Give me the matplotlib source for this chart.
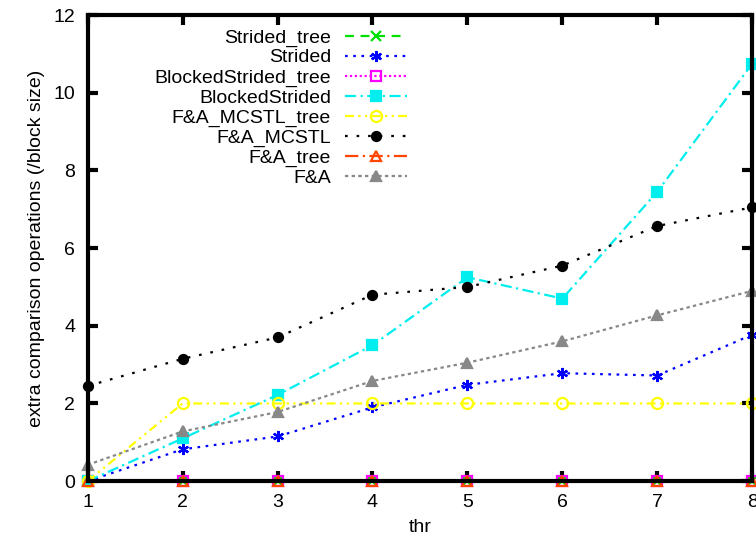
import matplotlib
matplotlib.use("Agg")
import matplotlib.pyplot as plt

thr = [1, 2, 3, 4, 5, 6, 7, 8]
strided_tree = [0, 0, 0, 0, 0, 0, 0, 0]
strided = [0, 0.82, 1.15, 1.9, 2.48, 2.78, 2.72, 3.77]
blocked_strided_tree = [0, 0, 0, 0, 0, 0, 0, 0]
blocked_strided = [0, 1.1, 2.22, 3.5, 5.25, 4.7, 7.45, 10.75]
fa_mcstl_tree = [0, 2, 2, 2, 2, 2, 2, 2]
fa_mcstl = [2.45, 3.15, 3.7, 4.8, 5.0, 5.55, 6.57, 7.05]
fa_tree = [0, 0, 0, 0, 0, 0, 0, 0]
fa = [0.42, 1.28, 1.78, 2.58, 3.05, 3.6, 4.27, 4.9]

xticks = [1, 2, 3, 4, 5, 6, 7, 8]
yticks = [0, 2, 4, 6, 8, 10, 12]

plt.rcParams['font.family'] = ['Liberation Sans', 'DejaVu Sans']

fig = plt.figure(figsize=(7.56, 5.4), dpi=100)
ax = fig.add_axes([0.116, 0.109, 0.879, 0.863])

asterisk = (6, 2, 0)
series = [
    (strided_tree, 'Strided_tree', dict(color='#00e000', ls=(0, (4, 3)), marker='x', mfc='none', ms=7)),
    (strided, 'Strided', dict(color='#0000ff', ls=(0, (1.2, 2.5)), marker=asterisk, ms=8, mew=1.6)),
    (blocked_strided_tree, 'BlockedStrided_tree', dict(color='#ff00ff', ls=(0, (1, 1.2)), marker='s', mfc='none', ms=7)),
    (blocked_strided, 'BlockedStrided', dict(color='#00eeee', ls=(0, (5, 2, 1, 2)), marker='s', ms=7)),
    (fa_mcstl_tree, 'F&A_MCSTL_tree', dict(color='#ffff00', ls=(0, (4, 2, 1, 2, 1, 2)), marker='o', mfc='none', ms=8)),
    (fa_mcstl, 'F&A_MCSTL', dict(color='black', ls=(0, (1.2, 4)), marker='o', ms=6.5)),
    (fa_tree, 'F&A_tree', dict(color='#ff4500', ls=(0, (6, 2, 1, 2)), marker='^', mfc='none', ms=7)),
    (fa, 'F&A', dict(color='#888888', ls=(0, (1.5, 1.5)), marker='^', ms=6.5)),
]

for vals, label, style in series:
    ax.plot(thr, vals, label=label, lw=1.6, clip_on=False, mew=style.pop('mew', 1.6), **style)

ax.set_xlim(1, 8)
ax.set_ylim(0, 12)
ax.set_xticks(xticks)
ax.set_yticks(yticks)
ax.tick_params(direction='in', length=7, width=3, top=True, right=True, labelsize=14, pad=9)
for sp in ax.spines.values():
    sp.set_linewidth(3)

ax.set_xlabel('thr', fontsize=14, labelpad=6)
ax.set_ylabel('extra comparison operations (/block size)', fontsize=14, labelpad=6)

ax.legend(loc='upper left', bbox_to_anchor=(0.08, 1.0), markerfirst=False, frameon=False,
          fontsize=14, handlelength=3.2, labelspacing=0.12, handletextpad=0.7,
          borderaxespad=0.3)

fig.savefig('out.png', dpi=100)
